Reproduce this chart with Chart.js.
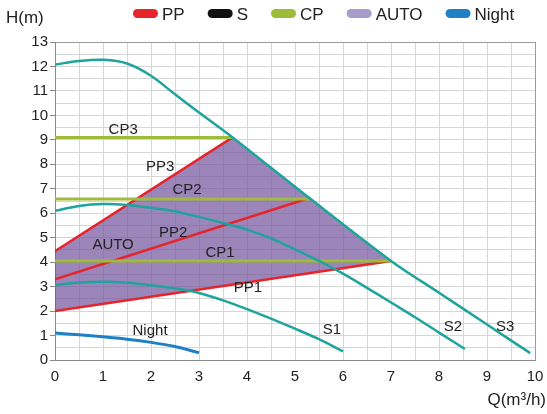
<!DOCTYPE html>
<html>
<head>
<meta charset="utf-8">
<script src="https://cdn.jsdelivr.net/npm/chart.js@4.4.1/dist/chart.umd.min.js"></script>
<style>
html, body { margin: 0; padding: 0; background: #fff; }
</style>
</head>
<body>
<canvas id="pumpChart" width="547" height="414"></canvas>
<script>
// Кривые насоса: Q (м3/ч) и H (м)
const s3Q = [0, 0.5, 1, 1.5, 2, 2.5, 3, 3.7, 5.3, 7, 8, 9, 9.9];
const s3H = [12.08, 12.22, 12.27, 12.12, 11.62, 10.86, 10.12, 9.1, 6.62, 4.05, 2.75, 1.45, 0.28];
const s2Q = [0, 0.5, 1, 1.5, 2, 2.5, 3, 3.5, 4, 4.5, 5, 5.5, 6, 6.5, 7, 7.5, 8, 8.54];
const s2H = [6.1, 6.3, 6.38, 6.34, 6.22, 6.08, 5.85, 5.6, 5.33, 4.97, 4.52, 4.05, 3.53, 2.95, 2.35, 1.75, 1.12, 0.45];
const s1Q = [0, 0.5, 1, 1.5, 2, 2.5, 3, 3.5, 4, 4.5, 5, 5.5, 6];
const s1H = [3.06, 3.17, 3.2, 3.16, 3.06, 2.93, 2.74, 2.44, 2.08, 1.69, 1.28, 0.85, 0.35];
const nightQ = [0, 0.5, 1, 1.5, 2, 2.5, 3];
const nightH = [1.1, 1.03, 0.95, 0.85, 0.72, 0.55, 0.3];

const pp1Q = [0, 7], pp1H = [2.0, 4.05];
const pp2Q = [0, 5.3], pp2H = [3.3, 6.62];
const pp3Q = [0, 3.7], pp3H = [4.45, 9.1];
const cp1Q = [0, 7], cp1H = [4.05, 4.05];
const cp2Q = [0, 5.3], cp2H = [6.58, 6.58];
const cp3Q = [0, 3.7], cp3H = [9.1, 9.1];

// зона AUTO: сверху PP3 + S3, снизу PP1
const autoTopQ = [0, 3.7, 5.3, 7];
const autoTopH = [4.45, 9.1, 6.62, 4.05];
const autoBottomQ = [0, 7];
const autoBottomH = [2.0, 4.05];

const legendNames = ['PP', 'S', 'CP', 'AUTO', 'Night'];
const legendColors = ['#e5252b', '#111111', '#9fbb3a', '#a99bca', '#1f80c6'];

const curveLabels = [
    { text: 'CP3', q: 1.42, h: 9.4 },
    { text: 'PP3', q: 2.19, h: 7.9 },
    { text: 'CP2', q: 2.75, h: 6.95 },
    { text: 'PP2', q: 2.46, h: 5.2 },
    { text: 'AUTO', q: 1.21, h: 4.7 },
    { text: 'CP1', q: 3.44, h: 4.4 },
    { text: 'PP1', q: 4.02, h: 2.93 },
    { text: 'Night', q: 1.98, h: 1.2 },
    { text: 'S1', q: 5.77, h: 1.22 },
    { text: 'S2', q: 8.29, h: 1.35 },
    { text: 'S3', q: 9.38, h: 1.35 }
];

const TEAL = '#1ea49c', RED = '#e5252b', GREEN = '#9fbb3a', BLUE = '#1f80c6';
const FONT = '"Liberation Sans", Arial, sans-serif';

const pts = (qs, hs) => qs.map((q, i) => ({ x: q, y: hs[i] }));

function curve(qs, hs, color, width, smooth) {
    return {
        data: pts(qs, hs),
        borderColor: color,
        borderWidth: width,
        pointRadius: 0,
        fill: false,
        tension: smooth ? 0.3 : 0,
        order: 1
    };
}

const annotate = {
    id: 'annotate',
    afterDraw(chart) {
        const { ctx, scales: { x, y } } = chart;
        ctx.save();
        ctx.fillStyle = '#222';
        ctx.textBaseline = 'middle';
        ctx.textAlign = 'center';
        ctx.font = '15px ' + FONT;
        curveLabels.forEach(l => ctx.fillText(l.text, x.getPixelForValue(l.q), y.getPixelForValue(l.h)));

        ctx.font = '17px ' + FONT;
        ctx.textAlign = 'left';
        ctx.fillText('H(m)', 6, 18);
        ctx.textAlign = 'right';
        ctx.fillText('Q(m\u00b3/h)', 546, 400);

        // легенда
        let lx = 133;
        ctx.textAlign = 'left';
        legendNames.forEach((name, i) => {
            ctx.fillStyle = legendColors[i];
            ctx.beginPath();
            ctx.roundRect(lx, 9, 25, 9, 4.5);
            ctx.fill();
            ctx.fillStyle = '#222';
            ctx.fillText(name, lx + 29, 15);
            lx += 29 + ctx.measureText(name).width + 23;
        });
        ctx.restore();
    }
};

const gridColor = (max) => c => (c.tick && c.tick.value === max ? '#9a9a9a' : '#d6d6d6');

new Chart(document.getElementById('pumpChart').getContext('2d'), {
    type: 'line',
    data: {
        datasets: [
            Object.assign(curve(autoTopQ, autoTopH, 'transparent', 0, false), {
                fill: '+1', backgroundColor: 'rgba(118, 88, 158, 0.72)', order: 5
            }),
            Object.assign(curve(autoBottomQ, autoBottomH, 'transparent', 0, false), { order: 6 }),
            curve(s3Q, s3H, TEAL, 2.5, true),
            curve(s2Q, s2H, TEAL, 2.5, true),
            curve(s1Q, s1H, TEAL, 2.5, true),
            curve(nightQ, nightH, BLUE, 3, true),
            curve(cp1Q, cp1H, GREEN, 3, false),
            curve(cp2Q, cp2H, GREEN, 3, false),
            curve(cp3Q, cp3H, GREEN, 3, false),
            curve(pp1Q, pp1H, RED, 2.5, false),
            curve(pp2Q, pp2H, RED, 2.5, false),
            curve(pp3Q, pp3H, RED, 2.5, false)
        ]
    },
    options: {
        responsive: false,
        animation: false,
        layout: { padding: { top: 42, right: 12, left: 0, bottom: 0 } },
        plugins: { legend: { display: false }, tooltip: { enabled: false } },
        scales: {
            x: {
                type: 'linear', min: 0, max: 10,
                afterFit: s => { s.height = 54; },
                ticks: {
                    stepSize: 0.5, autoSkip: false, maxRotation: 0, padding: 3,
                    color: '#222', font: { family: FONT, size: 15 },
                    callback: v => (Number.isInteger(v) ? v : '')
                },
                grid: { color: gridColor(10), tickLength: 5, tickColor: 'transparent' },
                border: { color: '#8a8a8a' }
            },
            y: {
                min: 0, max: 13,
                afterFit: s => { s.width = 55; },
                ticks: {
                    stepSize: 0.5, autoSkip: false, padding: 2,
                    color: '#222', font: { family: FONT, size: 15 },
                    callback: v => (Number.isInteger(v) ? v : '')
                },
                grid: {
                    color: gridColor(13), tickLength: 5,
                    tickColor: c => (Number.isInteger(c.tick.value) ? '#8a8a8a' : 'transparent')
                },
                border: { color: '#8a8a8a' }
            }
        }
    },
    plugins: [annotate]
});
</script>
</body>
</html>
